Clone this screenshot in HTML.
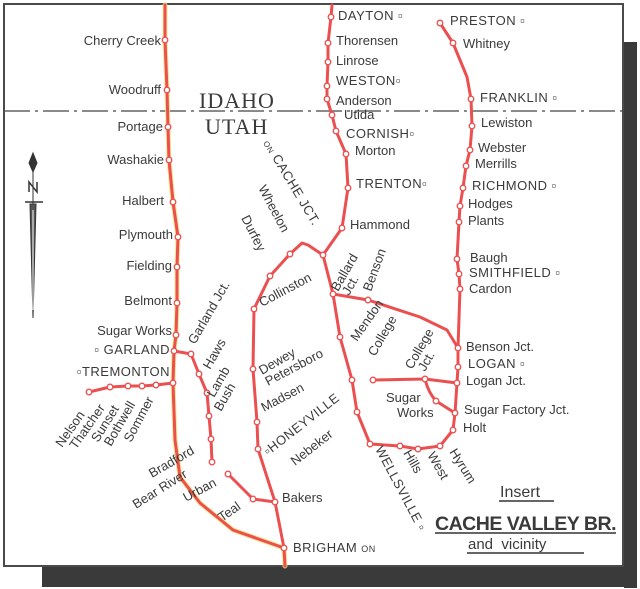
<!DOCTYPE html>
<html><head><meta charset="utf-8"><style>
html,body{margin:0;padding:0;background:#fff;}
svg{display:block}
text{font-family:"Liberation Sans",sans-serif;fill:#3a3a3a;font-size:13px}
.c{font-size:13px;letter-spacing:0.5px}
</style></head><body>
<svg width="640" height="589" viewBox="0 0 640 589" xmlns="http://www.w3.org/2000/svg">
<rect x="0" y="0" width="640" height="589" fill="#fff"/>
<!-- shadow -->
<rect x="624" y="42" width="13" height="546" fill="#3a3a3a"/>
<rect x="42" y="567" width="595" height="20" fill="#3a3a3a"/>
<!-- frame -->
<rect x="4" y="4" width="619" height="562" fill="#fff" stroke="#4a4a4a" stroke-width="2"/>
<!-- state line -->
<line x1="4" y1="111" x2="623" y2="111" stroke="#444" stroke-width="1.3" stroke-dasharray="26,5,3,5"/>

<g fill="none" stroke-linecap="round" stroke-linejoin="round">
<g stroke="#f6e27a" stroke-width="5" opacity="0.8">
<path id="p1" d="M165,5 L165,40 167,90 168,127 169,160 173,202 178,237 177,267 177,303 176,335 174,351 173,383 175,440 180,477 200,503 233,530 284,548 285,566"/>
</g>
<g stroke="#ec4f4f" stroke-width="3">
<path d="M165,5 L165,40 167,90 168,127 169,160 173,202 178,237 177,267 177,303 176,335 174,351 173,383 175,440 180,477 200,503 233,530 284,548 285,566"/>
<path d="M173,383 L156,385 142,386 128,386 110,387 89,392"/>
<path d="M174,351 L191,354 199,374 207,393 209,416 211,439 212,462"/>
<path d="M228,474 L253,499 275,502"/>
<path d="M284,548 L275,502 258,449 257,422 253,369 254,309 270,276 290,254 302,243 308,245 323,255 342,228 348,188 346,154 336,131 332,115 327,99 327,86 328,62 328,43 331,17 332,5"/>
<path d="M323,255 L333,294 340,337 352,380 357,412 370,444 400,446 418,449 440,446 453,430 455,413 457,383 458,367 458,348"/>
<path d="M333,294 L368,300 420,317 447,330 458,348"/>
<path d="M440,23 L453,43 467,77 471,99 472,126 470,150 466,166 463,188 460,206 459,222 457,259 459,274 460,289 458,348"/>
<path d="M373,380 L425,379 457,383"/>
<path d="M425,379 Q428,392 436,401 L455,413"/>
</g>
<g stroke="#ec4f4f" stroke-width="1.3" fill="#fff">
<circle cx="165" cy="40" r="2.8"/><circle cx="167" cy="90" r="2.8"/><circle cx="168" cy="127" r="2.8"/><circle cx="169" cy="160" r="2.8"/><circle cx="173" cy="202" r="2.8"/><circle cx="178" cy="237" r="2.8"/><circle cx="177" cy="267" r="2.8"/><circle cx="177" cy="303" r="2.8"/><circle cx="176" cy="335" r="2.8"/><circle cx="174" cy="351" r="2.8"/><circle cx="173" cy="383" r="2.8"/>
<circle cx="156" cy="385" r="2.8"/><circle cx="142" cy="386" r="2.8"/><circle cx="128" cy="386" r="2.8"/><circle cx="110" cy="387" r="2.8"/><circle cx="89" cy="392" r="2.8"/>
<circle cx="191" cy="354" r="2.8"/><circle cx="199" cy="374" r="2.8"/><circle cx="207" cy="393" r="2.8"/><circle cx="209" cy="416" r="2.8"/><circle cx="211" cy="439" r="2.8"/><circle cx="212" cy="462" r="2.8"/>
<circle cx="228" cy="474" r="2.8"/><circle cx="253" cy="499" r="2.8"/><circle cx="275" cy="502" r="2.8"/><circle cx="284" cy="548" r="2.8"/>
<circle cx="258" cy="449" r="2.8"/><circle cx="257" cy="422" r="2.8"/><circle cx="253" cy="369" r="2.8"/><circle cx="254" cy="309" r="2.8"/><circle cx="270" cy="276" r="2.8"/><circle cx="290" cy="254" r="2.8"/><circle cx="323" cy="255" r="2.8"/>
<circle cx="342" cy="228" r="2.8"/><circle cx="348" cy="188" r="2.8"/><circle cx="346" cy="154" r="2.8"/><circle cx="336" cy="131" r="2.8"/><circle cx="332" cy="115" r="2.8"/><circle cx="327" cy="99" r="2.8"/><circle cx="327" cy="86" r="2.8"/><circle cx="328" cy="62" r="2.8"/><circle cx="328" cy="43" r="2.8"/><circle cx="331" cy="17" r="2.8"/>
<circle cx="333" cy="294" r="2.8"/><circle cx="340" cy="337" r="2.8"/><circle cx="352" cy="380" r="2.8"/><circle cx="357" cy="412" r="2.8"/><circle cx="370" cy="444" r="2.8"/><circle cx="400" cy="446" r="2.8"/><circle cx="418" cy="449" r="2.8"/><circle cx="440" cy="446" r="2.8"/><circle cx="453" cy="430" r="2.8"/><circle cx="455" cy="413" r="2.8"/><circle cx="457" cy="383" r="2.8"/><circle cx="458" cy="367" r="2.8"/><circle cx="458" cy="348" r="2.8"/>
<circle cx="368" cy="300" r="2.8"/>
<circle cx="440" cy="23" r="2.8"/><circle cx="453" cy="43" r="2.8"/><circle cx="471" cy="99" r="2.8"/><circle cx="472" cy="126" r="2.8"/><circle cx="470" cy="150" r="2.8"/><circle cx="466" cy="166" r="2.8"/><circle cx="463" cy="188" r="2.8"/><circle cx="460" cy="206" r="2.8"/><circle cx="459" cy="222" r="2.8"/><circle cx="457" cy="259" r="2.8"/><circle cx="459" cy="274" r="2.8"/><circle cx="460" cy="289" r="2.8"/>
<circle cx="373" cy="380" r="2.8"/><circle cx="425" cy="379" r="2.8"/><circle cx="436" cy="401" r="2.8"/>
</g>
</g>

<!-- compass -->
<g stroke="#333" fill="none">
<path d="M33,153 L37,163 33,172 29,163 Z" fill="#333"/>
<path d="M29,192 L29,182 37,192 37,182" stroke-width="1.5"/>
<line x1="25" y1="202" x2="43" y2="202" stroke-width="1.5"/>
<path d="M33,172 L33,204 M30,204 L33,318 36,204 Z" fill="#555" stroke-width="1"/>
<line x1="33" y1="210" x2="33" y2="310" stroke="#fff" stroke-width="1"/>
</g>

<!-- IDAHO/UTAH -->
<text x="199" y="108" style="font-family:'Liberation Serif',serif;font-size:22px;letter-spacing:1px">IDAHO</text>
<text x="205" y="134" style="font-family:'Liberation Serif',serif;font-size:22px;letter-spacing:1px">UTAH</text>

<!-- left labels -->
<g text-anchor="end">
<text x="161" y="45">Cherry Creek</text>
<text x="161" y="94">Woodruff</text>
<text x="163" y="131">Portage</text>
<text x="164" y="164">Washakie</text>
<text x="164" y="205">Halbert</text>
<text x="173" y="239">Plymouth</text>
<text x="172" y="270">Fielding</text>
<text x="172" y="305">Belmont</text>
<text x="172" y="335">Sugar Works</text>
<text x="170" y="354" class="c">▫ GARLAND</text>
<text x="170" y="376" class="c">▫TREMONTON</text>
</g>

<!-- middle right labels -->
<text x="338" y="20" class="c">DAYTON ▫</text>
<text x="336" y="45">Thorensen</text>
<text x="336" y="65">Linrose</text>
<text x="336" y="85" class="c">WESTON▫</text>
<text x="336" y="105">Anderson</text>
<text x="344" y="119" style="background:#fff">Utida</text>
<text x="346" y="138" class="c">CORNISH▫</text>
<text x="355" y="155">Morton</text>
<text x="356" y="188" class="c">TRENTON▫</text>
<text x="350" y="229">Hammond</text>

<text x="450" y="25" class="c">PRESTON ▫</text>
<text x="463" y="48">Whitney</text>
<text x="480" y="102" class="c">FRANKLIN ▫</text>
<text x="481" y="127">Lewiston</text>
<text x="478" y="152">Webster</text>
<text x="475" y="168">Merrills</text>
<text x="472" y="190" class="c">RICHMOND ▫</text>
<text x="468" y="208">Hodges</text>
<text x="468" y="225">Plants</text>
<text x="470" y="262">Baugh</text>
<text x="469" y="277" class="c">SMITHFIELD ▫</text>
<text x="469" y="293">Cardon</text>
<text x="466" y="351">Benson Jct.</text>
<text x="468" y="368" class="c">LOGAN ▫</text>
<text x="466" y="385">Logan Jct.</text>
<text x="464" y="414">Sugar Factory Jct.</text>
<text x="463" y="432">Holt</text>
<text x="386" y="402">Sugar</text>
<text x="397" y="417">Works</text>
<text x="282" y="502">Bakers</text>
<text x="293" y="552" class="c">BRIGHAM <tspan font-size="9">ON</tspan></text>

<!-- rotated labels -->
<text transform="translate(263,143) rotate(59)" class="c"><tspan font-size="8">ON</tspan> CACHE JCT.</text>
<text transform="translate(258,188) rotate(62)">Wheelon</text>
<text transform="translate(241,218) rotate(63)">Durfey</text>
<text transform="translate(195,345) rotate(-60)">Garland Jct.</text>
<text transform="translate(210,370) rotate(-60)">Haws</text>
<text transform="translate(214,398) rotate(-60)">Lamb</text>
<text transform="translate(221,412) rotate(-60)">Bush</text>
<text transform="translate(262,307) rotate(-28)">Collinston</text>
<text transform="translate(262,375) rotate(-30)">Dewey</text>
<text transform="translate(268,386) rotate(-28)">Petersboro</text>
<text transform="translate(264,412) rotate(-28)">Madsen</text>
<text transform="translate(268,456) rotate(-38)" class="c">▫HONEYVILLE</text>
<text transform="translate(295,466) rotate(-38)">Nebeker</text>
<text transform="translate(338,292) rotate(-60)">Ballard</text>
<text transform="translate(349,296) rotate(-60)">Jct.</text>
<text transform="translate(371,292) rotate(-70)">Benson</text>
<text transform="translate(357,342) rotate(-55)">Mendon</text>
<text transform="translate(375,357) rotate(-60)">College</text>
<text transform="translate(412,370) rotate(-60)">College</text>
<text transform="translate(425,372) rotate(-60)">Jct.</text>
<text transform="translate(62,448) rotate(-55)">Nelson</text>
<text transform="translate(76,450) rotate(-55)">Thatcher</text>
<text transform="translate(98,443) rotate(-58)">Sunset</text>
<text transform="translate(111,447) rotate(-60)">Bothwell</text>
<text transform="translate(131,443) rotate(-62)">Sommer</text>
<text transform="translate(152,478) rotate(-30)">Bradford</text>
<text transform="translate(136,509) rotate(-32)">Bear River</text>
<text transform="translate(186,502) rotate(-28)">Urban</text>
<text transform="translate(222,522) rotate(-35)">Teal</text>
<text transform="translate(375,449) rotate(62)" class="c">WELLSVILLE ▫</text>
<text transform="translate(403,453) rotate(60)">Hills</text>
<text transform="translate(427,455) rotate(60)">West</text>
<text transform="translate(449,452) rotate(58)">Hyrum</text>

<!-- title -->
<text x="500" y="497" style="font-size:16px">Insert</text>
<line x1="499" y1="501" x2="554" y2="501" stroke="#333" stroke-width="1.5"/>
<text x="435" y="530" style="font-size:19px;font-weight:bold;letter-spacing:-0.5px" textLength="181" lengthAdjust="spacingAndGlyphs">CACHE VALLEY BR.</text>
<line x1="435" y1="533" x2="616" y2="533" stroke="#333" stroke-width="1.5"/>
<text x="468" y="549" style="font-size:15px">and&#160; vicinity</text>
<line x1="467" y1="553" x2="584" y2="553" stroke="#333" stroke-width="1.5"/>
</svg>
</body></html>
